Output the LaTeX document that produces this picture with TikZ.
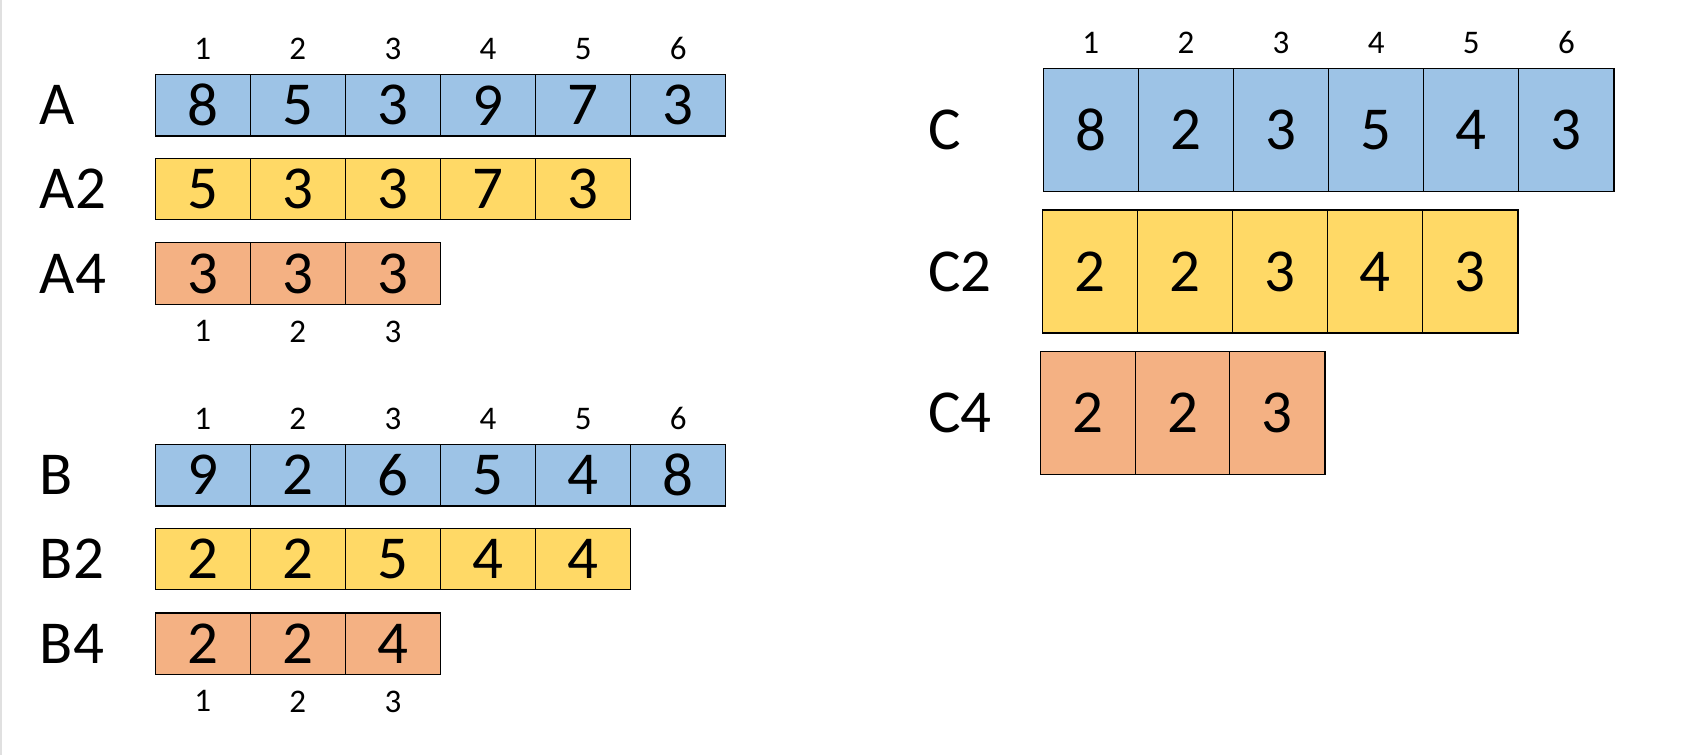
\documentclass[tikz,border=0pt]{standalone}
\usepackage{fontspec}
\setmainfont{Carlito}
\usetikzlibrary{positioning}

\definecolor{cellblue}{HTML}{9DC3E6}
\definecolor{cellyellow}{HTML}{FFD966}
\definecolor{cellorange}{HTML}{F4B183}

\tikzset{
	cell/.style={draw=black, line width=1.2pt, minimum width=95.1pt, minimum height=61.5pt, inner sep=0pt, font=\fontsize{61}{61}\selectfont},
	tallcell/.style={cell, minimum height=123pt},
	rowname/.style={anchor=west, inner sep=0pt, font=\fontsize{61}{61}\selectfont},
	index/.style={inner sep=0pt, font=\fontsize{33}{33}\selectfont}
}

\begin{document}
\begin{tikzpicture}[x=1pt,y=-1pt]
		\useasboundingbox[fill=white] (0,0) rectangle (1690,755);
		\draw[black!12, line width=1.5pt] (0.75,0) -- (0.75,755);

		% left panel, array A
		\node[rowname] (labA) at (39.7,105.3) {A};
		\foreach \v [count=\i] in {8,5,3,9,7,3}
			\node[cell, fill=cellblue] (A-\i) at ({107.65+95.1*\i},105.3) {\v};
		\node[rowname] (labA2) at (39.7,188.9) {A2};
		\foreach \v [count=\i] in {5,3,3,7,3}
			\node[cell, fill=cellyellow] (A2-\i) at ({107.65+95.1*\i},188.9) {\v};
		\node[rowname] (labA4) at (39.7,273.6) {A4};
		\foreach \v [count=\i] in {3,3,3}
			\node[cell, fill=cellorange] (A4-\i) at ({107.65+95.1*\i},273.6) {\v};
		\foreach \i in {1,...,6}
			\node[index, above=14pt of A-\i] (idxA-\i) {\i};
		\foreach \i in {1,...,3}
			\node[index, below=15.5pt of A4-\i] (idxA4-\i) {\i};

		% left panel, array B
		\node[rowname] (labB) at (39.7,475.2) {B};
		\foreach \v [count=\i] in {9,2,6,5,4,8}
			\node[cell, fill=cellblue] (B-\i) at ({107.65+95.1*\i},475.2) {\v};
		\node[rowname] (labB2) at (39.7,558.9) {B2};
		\foreach \v [count=\i] in {2,2,5,4,4}
			\node[cell, fill=cellyellow] (B2-\i) at ({107.65+95.1*\i},558.9) {\v};
		\node[rowname] (labB4) at (39.7,643.7) {B4};
		\foreach \v [count=\i] in {2,2,4}
			\node[cell, fill=cellorange] (B4-\i) at ({107.65+95.1*\i},643.7) {\v};
		\foreach \i in {1,...,6}
			\node[index, above=14pt of B-\i] (idxB-\i) {\i};
		\foreach \i in {1,...,3}
			\node[index, below=15.5pt of B4-\i] (idxB4-\i) {\i};

		% right panel, array C
		\node[rowname] (labC) at (928,130) {C};
		\foreach \v [count=\i] in {8,2,3,5,4,3}
			\node[tallcell, fill=cellblue] (C-\i) at ({995.75+95.1*\i},130) {\v};
		\node[rowname] (labC2) at (928,271.5) {C2};
		\foreach \v [count=\i] in {2,2,3,4,3}
			\node[tallcell, fill=cellyellow] (C2-\i) at ({994.85+95.1*\i},271.5) {\v};
		\node[rowname] (labC4) at (928,413) {C4};
		\foreach \v [count=\i] in {2,2,3}
			\node[tallcell, fill=cellorange] (C4-\i) at ({993.6+94.6*\i},413) {\v};
		\foreach \i in {1,...,6}
			\node[index, above=14pt of C-\i] (idxC-\i) {\i};
	\end{tikzpicture}
\end{document}
